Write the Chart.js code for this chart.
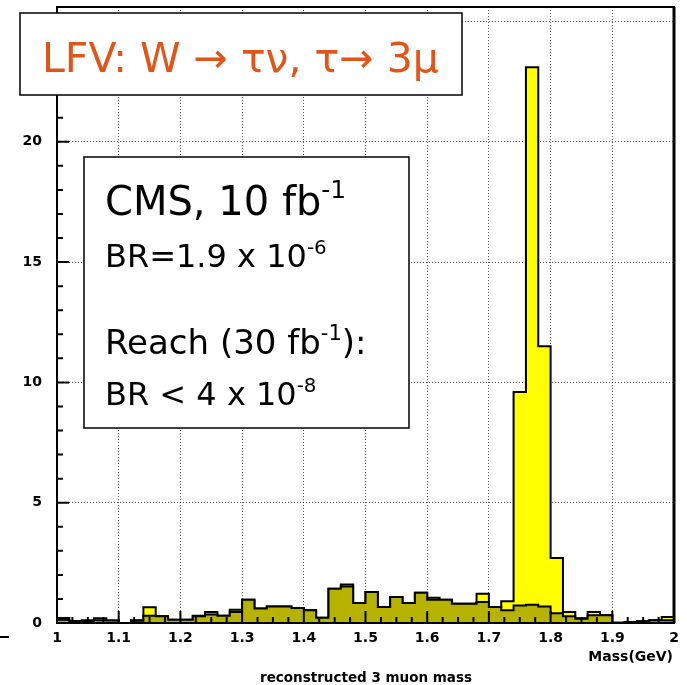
<!DOCTYPE html>
<html>
<head>
<meta charset="utf-8">
<title>LFV tau to 3 muons</title>
<script src="https://cdn.jsdelivr.net/npm/chart.js@4.4.1/dist/chart.umd.min.js"></script>
<style>
    body { margin: 0; background: #fff; }
    canvas { display: block; }
</style>
</head>
<body>
<canvas id="massChart" width="687" height="685"></canvas>
<script>
// HISTOGRAM DATA (3 muon invariant mass, 0.02 GeV bins)
const massBins = [
    1.00, 1.02, 1.04, 1.06, 1.08, 1.10, 1.12, 1.14, 1.16, 1.18,
    1.20, 1.22, 1.24, 1.26, 1.28, 1.30, 1.32, 1.34, 1.36, 1.38,
    1.40, 1.42, 1.44, 1.46, 1.48, 1.50, 1.52, 1.54, 1.56, 1.58,
    1.60, 1.62, 1.64, 1.66, 1.68, 1.70, 1.72, 1.74, 1.76, 1.78,
    1.80, 1.82, 1.84, 1.86, 1.88, 1.90, 1.92, 1.94, 1.96, 1.98
];
const massMax = 2.0;

// signal + background
const totalEvents = [
    0.21, 0.07, 0.11, 0.20, 0.10, 0.00, 0.11, 0.65, 0.28, 0.14,
    0.14, 0.30, 0.46, 0.30, 0.55, 0.97, 0.60, 0.69, 0.69, 0.62,
    0.53, 0.22, 1.42, 1.60, 0.83, 1.29, 0.66, 1.08, 0.83, 1.26,
    1.05, 0.97, 0.80, 0.80, 1.22, 0.66, 0.90, 9.60, 23.1, 11.5,
    2.70, 0.46, 0.20, 0.46, 0.32, 0.01, 0.04, 0.07, 0.11, 0.25
];

// background only
const backgroundEvents = [
    0.14, 0.07, 0.08, 0.11, 0.10, 0.00, 0.09, 0.30, 0.28, 0.14,
    0.14, 0.28, 0.35, 0.30, 0.46, 0.97, 0.60, 0.69, 0.69, 0.62,
    0.53, 0.22, 1.42, 1.52, 0.83, 1.29, 0.66, 1.08, 0.83, 1.26,
    0.97, 0.97, 0.80, 0.80, 0.87, 0.66, 0.53, 0.73, 0.76, 0.69,
    0.41, 0.28, 0.18, 0.32, 0.32, 0.01, 0.04, 0.07, 0.11, 0.11
];

const xTickLabels = ['1', '1.1', '1.2', '1.3', '1.4', '1.5', '1.6', '1.7', '1.8', '1.9', '2'];
const yTickLabels = ['0', '5', '10', '15', '20', '25'];

// turn bin contents into a closed step outline
function histPoints(values) {
    const pts = [{ x: massBins[0], y: 0 }];
    values.forEach((v, i) => pts.push({ x: massBins[i], y: v }));
    pts.push({ x: massMax, y: values[values.length - 1] });
    pts.push({ x: massMax, y: 0 });
    return pts;
}

// text with superscripts: parts = [[text, isSup], ...]
function drawRich(ctx, parts, x, y, size, family) {
    parts.forEach(([txt, sup]) => {
        const fs = sup ? size * 0.62 : size;
        ctx.font = fs + 'px ' + family;
        ctx.fillText(txt, x, sup ? y - size * 0.42 : y);
        x += ctx.measureText(txt).width;
    });
}

const boxFont = '"DejaVu Sans", sans-serif';
const axisFont = '"DejaVu Sans", sans-serif';

// inside ticks, frame and text boxes
const decorations = {
    id: 'decorations',
    afterDatasetsDraw(chart) {
        const { ctx, chartArea: a, scales: { x, y } } = chart;
        ctx.save();
        ctx.strokeStyle = '#000';
        ctx.lineWidth = 2;
        ctx.beginPath();
        for (let k = 0; k <= 40; k++) {
            const px = x.getPixelForValue(1 + k * 0.025);
            const len = k % 4 === 0 ? 12 : 6;
            ctx.moveTo(px, a.bottom);
            ctx.lineTo(px, a.bottom - len);
        }
        for (let k = 0; k <= 25; k++) {
            const py = y.getPixelForValue(k);
            const len = k % 5 === 0 ? 12 : 6;
            ctx.moveTo(a.left, py);
            ctx.lineTo(a.left + len, py);
        }
        ctx.stroke();

        // frame
        ctx.strokeRect(a.left, a.top, a.right - a.left, a.bottom - a.top);
        ctx.lineWidth = 3;
        ctx.beginPath();
        ctx.moveTo(a.right, a.top);
        ctx.lineTo(a.right, a.bottom);
        ctx.stroke();
        ctx.restore();
    },
    afterDraw(chart) {
        const { ctx, chartArea: a } = chart;
        ctx.save();

        // axis titles
        ctx.fillStyle = '#000';
        ctx.font = 'bold 14px ' + axisFont;
        ctx.textAlign = 'right';
        ctx.textBaseline = 'middle';
        ctx.fillText('Mass(GeV)', a.right - 1, 657);
        ctx.textAlign = 'center';
        ctx.font = 'bold 13.5px ' + axisFont;
        ctx.fillText('reconstructed 3 muon mass', 366, 678);

        ctx.strokeStyle = '#000';
        ctx.lineWidth = 2;
        ctx.beginPath();
        ctx.moveTo(0, 637);
        ctx.lineTo(9, 637);
        ctx.stroke();

        // title box
        ctx.textAlign = 'left';
        ctx.textBaseline = 'alphabetic';
        ctx.fillStyle = '#fff';
        ctx.fillRect(20, 13, 442, 82);
        ctx.lineWidth = 1.5;
        ctx.strokeRect(20, 13, 442, 82);
        ctx.fillStyle = '#e0561a';
        ctx.font = '41px ' + boxFont;
        ctx.fillText('LFV: W \u2192 \u03c4\u03bd, \u03c4\u2192 3\u03bc', 42, 72);

        // result box
        ctx.fillStyle = '#fff';
        ctx.fillRect(84, 157, 325, 271);
        ctx.strokeRect(84, 157, 325, 271);
        ctx.fillStyle = '#000';
        drawRich(ctx, [['CMS, 10 fb', false], ['-1', true]], 105, 215, 40, boxFont);
        drawRich(ctx, [['BR=1.9 x 10', false], ['-6', true]], 105, 267, 32, boxFont);
        drawRich(ctx, [['Reach (30 fb', false], ['-1', true], ['):', false]], 105, 354, 34, boxFont);
        drawRich(ctx, [['BR < 4 x 10', false], ['-8', true]], 105, 405, 32, boxFont);
        ctx.restore();
    }
};

const ctx = document.getElementById('massChart').getContext('2d');
const massChart = new Chart(ctx, {
    type: 'line',
    data: {
        datasets: [{
            label: 'background',
            data: histPoints(backgroundEvents),
            stepped: true,
            fill: 'origin',
            backgroundColor: 'rgb(182, 178, 0)',
            borderColor: '#000',
            borderWidth: 2,
            pointRadius: 0,
            order: 0
        }, {
            label: 'signal + background',
            data: histPoints(totalEvents),
            stepped: true,
            fill: 'origin',
            backgroundColor: '#ffff00',
            borderColor: '#000',
            borderWidth: 2,
            pointRadius: 0,
            order: 1
        }]
    },
    options: {
        responsive: false,
        animation: false,
        devicePixelRatio: 1,
        events: [],
        layout: { padding: { top: 7, right: 13, left: 0, bottom: 0 } },
        plugins: { legend: { display: false }, tooltip: { enabled: false } },
        scales: {
            x: {
                type: 'linear',
                min: 1,
                max: 2,
                afterFit: s => { s.height = 62; s.paddingLeft = 0; s.paddingRight = 0; },
                grid: { color: 'rgba(0,0,0,0.65)', lineWidth: 1, drawTicks: false },
                border: { display: false, dash: [1, 2] },
                ticks: {
                    stepSize: 0.1,
                    includeBounds: false,
                    padding: 7,
                    maxRotation: 0,
                    autoSkip: false,
                    color: '#000',
                    font: { family: axisFont, size: 14, weight: 'bold' },
                    callback: (v, i) => xTickLabels[i]
                }
            },
            y: {
                min: 0,
                max: 25.6,
                afterFit: s => { s.width = 57; s.paddingTop = 0; s.paddingBottom = 0; },
                grid: { color: 'rgba(0,0,0,0.65)', lineWidth: 1, drawTicks: false },
                border: { display: false, dash: [1, 2] },
                ticks: {
                    stepSize: 5,
                    includeBounds: false,
                    padding: 15,
                    color: '#000',
                    font: { family: axisFont, size: 14, weight: 'bold' },
                    callback: (v, i) => yTickLabels[i]
                }
            }
        }
    },
    plugins: [decorations]
});
</script>
</body>
</html>
